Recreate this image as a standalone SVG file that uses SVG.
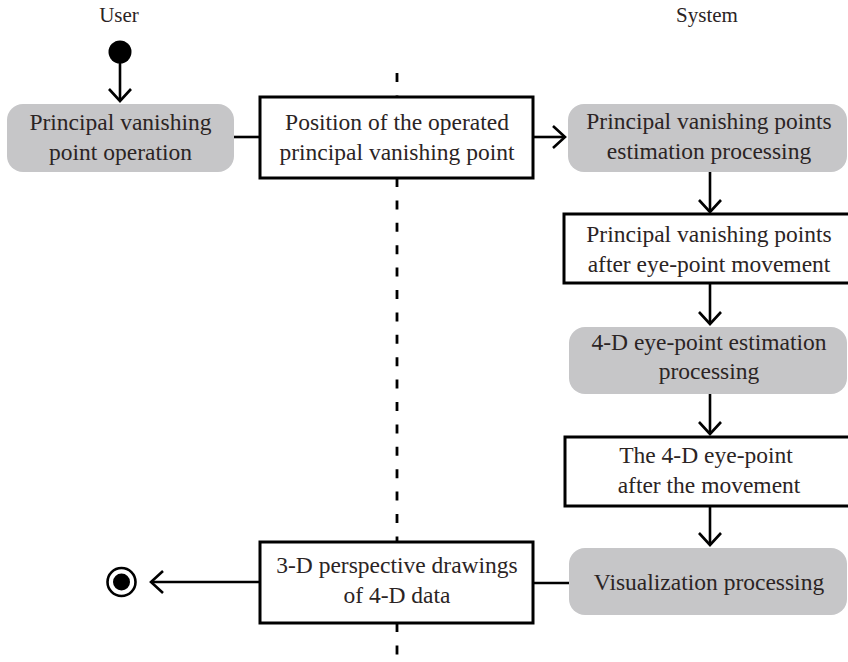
<svg xmlns="http://www.w3.org/2000/svg" width="848" height="662" viewBox="0 0 848 662">
<style>
text{font-family:'Liberation Serif','DejaVu Serif',serif;font-size:23.5px;fill:#2b2424;text-anchor:middle}
.lane{font-size:21px}
.act{fill:#c6c6c8;stroke:none}
.obj{fill:#fff;stroke:#000;stroke-width:3}
.ln{stroke:#000;stroke-width:2.6;fill:none}
.dash{stroke:#000;stroke-width:2.8;stroke-dasharray:9 13.4;fill:none}
</style>
<defs>
<marker id="arr" markerUnits="userSpaceOnUse" markerWidth="30" markerHeight="30" viewBox="-15 -15 30 30" refX="0" refY="0" orient="auto">
<path d="M-12,-11 L0,0 L-12,11" fill="none" stroke="#000" stroke-width="2.6"/>
</marker>
</defs>
<g id="swimlane-labels">
<text class="lane" x="119" y="22">User</text>
<text class="lane" x="707" y="22">System</text>
</g>
<g id="partition">
<line class="dash" x1="397" y1="73" x2="397" y2="97"/>
<line class="dash" x1="397" y1="178" x2="397" y2="542"/>
<line class="dash" x1="397" y1="623" x2="397" y2="662"/>
</g>
<g id="connectors">
<line class="ln" x1="120" y1="63" x2="120" y2="101" marker-end="url(#arr)"/>
<line class="ln" x1="234" y1="137" x2="260" y2="137"/>
<line class="ln" x1="533" y1="137" x2="565" y2="137" marker-end="url(#arr)"/>
<line class="ln" x1="710" y1="172" x2="710" y2="212" marker-end="url(#arr)"/>
<line class="ln" x1="710" y1="283" x2="710" y2="324" marker-end="url(#arr)"/>
<line class="ln" x1="710" y1="394" x2="710" y2="434" marker-end="url(#arr)"/>
<line class="ln" x1="710" y1="506" x2="710" y2="545" marker-end="url(#arr)"/>
<line class="ln" x1="569" y1="583" x2="533" y2="583"/>
<line class="ln" x1="260" y1="582" x2="151" y2="582" marker-end="url(#arr)"/>
</g>
<g id="initial">
<circle cx="120" cy="52" r="11.5" fill="#000"/>
</g>
<g id="final">
<circle cx="121.5" cy="582" r="14" fill="#fff" stroke="#000" stroke-width="2.6"/>
<circle cx="121.5" cy="582" r="8.5" fill="#000"/>
</g>
<g id="n-pvp-operation">
<rect class="act" x="7" y="104" width="227" height="68" rx="16"/>
<text x="120.5" y="130">Principal vanishing</text>
<text x="120.5" y="160">point operation</text>
</g>
<g id="o-position">
<rect class="obj" x="260" y="97" width="273" height="81"/>
<text x="397" y="130">Position of the operated</text>
<text x="397" y="160">principal vanishing point</text>
</g>
<g id="n-pvp-estimation">
<rect class="act" x="568" y="104" width="279" height="68" rx="16"/>
<text x="709" y="129">Principal vanishing points</text>
<text x="709" y="159">estimation processing</text>
</g>
<g id="o-pvp-after">
<rect class="obj" x="564" y="214" width="292" height="69"/>
<text x="709" y="242">Principal vanishing points</text>
<text x="709" y="272">after eye-point movement</text>
</g>
<g id="n-eyepoint-estimation">
<rect class="act" x="569" y="327" width="278" height="67" rx="16"/>
<text x="709" y="350">4-D eye-point estimation</text>
<text x="709" y="379">processing</text>
</g>
<g id="o-eyepoint-after">
<rect class="obj" x="565" y="437" width="291" height="69"/>
<text x="706" y="463">The 4-D eye-point</text>
<text x="709" y="493">after the movement</text>
</g>
<g id="n-visualization">
<rect class="act" x="569" y="548" width="278" height="67" rx="16"/>
<text x="709" y="590">Visualization processing</text>
</g>
<g id="o-drawings">
<rect class="obj" x="260" y="542" width="273" height="81"/>
<text x="397" y="573">3-D perspective drawings</text>
<text x="397" y="603">of 4-D data</text>
</g>
</svg>
